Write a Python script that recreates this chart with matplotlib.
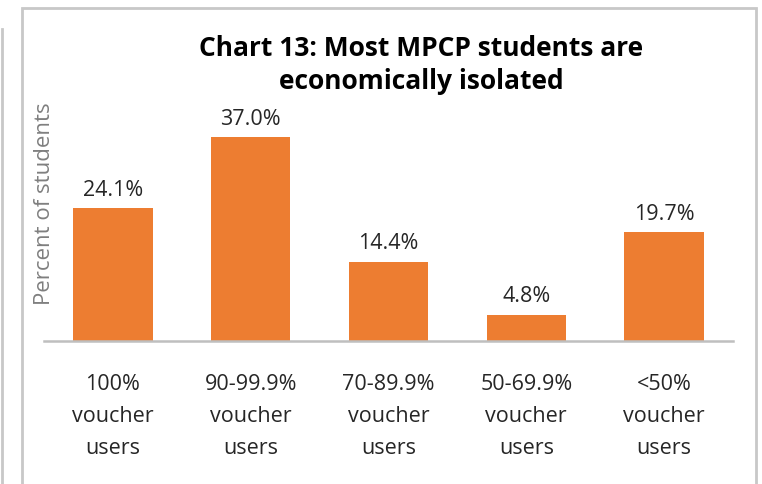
import matplotlib.pyplot as plt
from matplotlib.patches import Rectangle
from matplotlib.lines import Line2D

categories = ["100%\nvoucher\nusers", "90-99.9%\nvoucher\nusers", "70-89.9%\nvoucher\nusers",
              "50-69.9%\nvoucher\nusers", "<50%\nvoucher\nusers"]
values = [24.1, 37.0, 14.4, 4.8, 19.7]
labels = ["24.1%", "37.0%", "14.4%", "4.8%", "19.7%"]

plt.rcParams['font.family'] = ['Open Sans', 'DejaVu Sans']

W, H = 762, 485
fig = plt.figure(figsize=(W / 100, H / 100), dpi=100)

# axes placed in pixel terms
left, right, base, top = 44, 733, 342, 95
ax = fig.add_axes([left / W, (H - base) / H, (right - left) / W, (base - top) / H])

x = list(range(len(values)))
bars = ax.bar(x, values, width=0.575, color="#ED7D31")
ax.set_xlim(-0.5, len(values) - 0.5)
ax.set_ylim(0, (base - top) / 5.51)

for b, lab in zip(bars, labels):
    ax.annotate(lab, (b.get_x() + b.get_width() / 2, b.get_height()),
                xytext=(0, 6), textcoords="offset points",
                ha="center", va="bottom", fontsize=15.5, color="#262626")

ax.set_xticks(x)
ax.set_xticklabels(categories, fontsize=15.5, color="#262626", linespacing=1.7)
ax.tick_params(axis="x", length=0, pad=23)
ax.set_yticks([])
for s in ["top", "right", "left"]:
    ax.spines[s].set_visible(False)
ax.spines["bottom"].set_color("#bfbfbf")
ax.spines["bottom"].set_linewidth(1.8)

fig.text(45 / W, 1 - 204 / H, "Percent of students", rotation=90, ha="center", va="center",
         fontsize=16, color="#7f7f7f")

fig.text(421 / W, 1 - 65 / H, "Chart 13: Most MPCP students are\neconomically isolated",
         ha="center", va="center", fontsize=19, fontweight="bold", color="#000000",
         linespacing=1.3)

# chart border
fig.patches.append(Rectangle((22 / W, -0.05), (756 - 22) / W, 1.05 - 9 / H,
                             transform=fig.transFigure, fill=False,
                             edgecolor="#c8c8c8", linewidth=2))
fig.lines.append(Line2D([2 / W, 2 / W], [0, 1 - 30 / H], transform=fig.transFigure,
                        color="#c8c8c8", linewidth=2))

fig.savefig("out.png", dpi=100)
